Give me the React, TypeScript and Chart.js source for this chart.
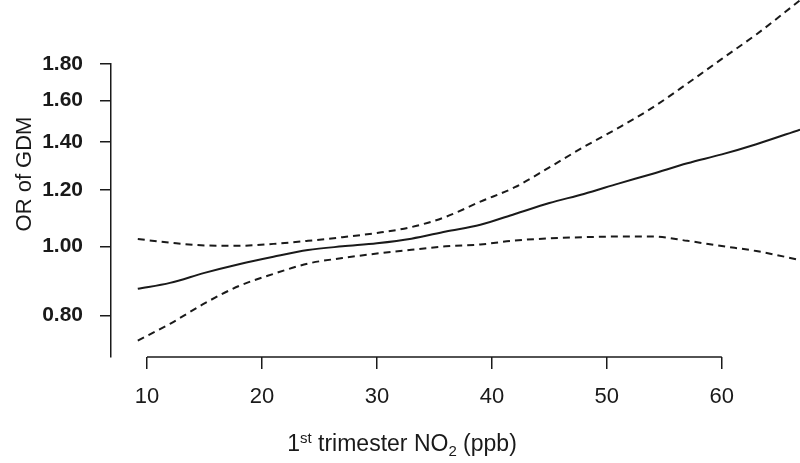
import React, { useEffect, useRef } from "react";
import { Chart, registerables } from "chart.js";

Chart.register(...registerables);

// NO2 exposure grid (ppb)
const no2Values = [9.2, 12, 15, 18, 21, 24, 27, 30, 33, 36, 39, 42, 45, 48, 51, 54, 57, 60, 63, 66.8];
// Odds ratio estimate
const orEstimate = [0.872, 0.889, 0.918, 0.944, 0.967, 0.988, 1.0, 1.01, 1.025, 1.049, 1.072, 1.11, 1.15, 1.184, 1.224, 1.264, 1.307, 1.345, 1.39, 1.457];
// Upper 95% CI
const orUpper = [1.024, 1.012, 1.003, 1.002, 1.008, 1.018, 1.03, 1.044, 1.064, 1.1, 1.155, 1.21, 1.29, 1.378, 1.465, 1.565, 1.69, 1.83, 1.98, 2.21];
// Lower 95% CI
const orLower = [0.738, 0.779, 0.832, 0.88, 0.915, 0.946, 0.963, 0.977, 0.989, 1.0, 1.006, 1.019, 1.026, 1.03, 1.032, 1.032, 1.018, 1.001, 0.985, 0.957];

const xTickValues = [10, 20, 30, 40, 50, 60];
const yTickValues = [0.8, 1.0, 1.2, 1.4, 1.6, 1.8];

const yTitle = "OR of GDM";
// x title pieces: [text, kind]
const xTitleParts: [string, string][] = [
  ["1", "normal"],
  ["st", "sup"],
  [" trimester NO", "normal"],
  ["2", "sub"],
  [" (ppb)", "normal"],
];

const FONT = "'Liberation Sans', Arial, Helvetica, sans-serif";
const INK = "#1a1a1a";

const axisPlugin = {
  id: "rAxes",
  afterDraw(chart: any) {
    const { ctx, chartArea } = chart;
    const xs = chart.scales.x;
    ctx.save();
    // x axis line from first to last tick
    ctx.strokeStyle = INK;
    ctx.lineWidth = 1.5;
    ctx.beginPath();
    const x0 = xs.getPixelForValue(xTickValues[0]);
    const x1 = xs.getPixelForValue(xTickValues[xTickValues.length - 1]);
    ctx.moveTo(x0, chartArea.bottom);
    ctx.lineTo(x1, chartArea.bottom);
    ctx.stroke();

    // x title
    const big = "23px " + FONT;
    const small = "15px " + FONT;
    let total = 0;
    for (const [t, k] of xTitleParts) {
      ctx.font = k === "normal" ? big : small;
      total += ctx.measureText(t).width;
    }
    let cx = 402 - total / 2;
    const base = 451;
    ctx.fillStyle = INK;
    ctx.textBaseline = "alphabetic";
    ctx.textAlign = "left";
    for (const [t, k] of xTitleParts) {
      ctx.font = k === "normal" ? big : small;
      const dy = k === "sup" ? -8 : k === "sub" ? 5 : 0;
      ctx.fillText(t, cx, base + dy);
      cx += ctx.measureText(t).width;
    }

    // y title
    ctx.font = "22px " + FONT;
    ctx.translate(25, 174);
    ctx.rotate(-Math.PI / 2);
    ctx.textAlign = "center";
    ctx.textBaseline = "middle";
    ctx.fillText(yTitle, 0, 0);
    ctx.restore();
  },
};

export default function App() {
  const ref = useRef<HTMLCanvasElement | null>(null);
  useEffect(() => {
    if (!ref.current) return;
    const mk = (data: number[], dashed: boolean) => ({
      data: no2Values.map((x, i) => ({ x, y: data[i] })),
      borderColor: INK,
      borderWidth: 2,
      borderDash: dashed ? [7, 5] : [],
      pointRadius: 0,
      cubicInterpolationMode: "monotone" as const,
      clip: false as any,
      fill: false,
    });
    const chart = new Chart(ref.current, {
      type: "line",
      data: {
        datasets: [
          { label: "OR", ...mk(orEstimate, false) },
          { label: "Upper CI", ...mk(orUpper, true) },
          { label: "Lower CI", ...mk(orLower, true) },
        ],
      },
      options: {
        animation: false,
        responsive: true,
        maintainAspectRatio: false,
        layout: { padding: { top: 64, right: 0, left: 0, bottom: 0 } },
        plugins: { legend: { display: false }, tooltip: { enabled: false } },
        scales: {
          x: {
            type: "linear",
            min: 6.87,
            max: 66.8,
            afterBuildTicks: (s: any) => {
              s.ticks = xTickValues.map((v) => ({ value: v }));
            },
            afterFit: (s: any) => {
              s.height = 106;
            },
            border: { display: false },
            grid: { drawOnChartArea: false, drawTicks: true, tickLength: 12, color: INK, lineWidth: 1.5 },
            ticks: {
              color: INK,
              padding: 15,
              maxRotation: 0,
              autoSkip: false,
              font: { family: FONT, size: 22 },
              callback: (v: any) => String(v),
            },
          },
          y: {
            type: "logarithmic",
            min: 0.704,
            max: 1.8,
            afterBuildTicks: (s: any) => {
              s.ticks = yTickValues.map((v) => ({ value: v }));
            },
            afterFit: (s: any) => {
              s.width = 111;
            },
            border: { display: true, color: INK, width: 1.5 },
            grid: { drawOnChartArea: false, drawTicks: true, tickLength: 11, color: INK, lineWidth: 1.5 },
            ticks: {
              color: INK,
              padding: 17,
              autoSkip: false,
              font: { family: FONT, size: 21, weight: "bold" },
              callback: (v: any) => Number(v).toFixed(2),
            },
          },
        },
      },
      plugins: [axisPlugin],
    });
    return () => chart.destroy();
  }, []);
  return (
    <div style={{ position: "fixed", left: 0, top: 0, width: 800, height: 463, background: "#fff" }}>
      <canvas ref={ref} />
    </div>
  );
}
